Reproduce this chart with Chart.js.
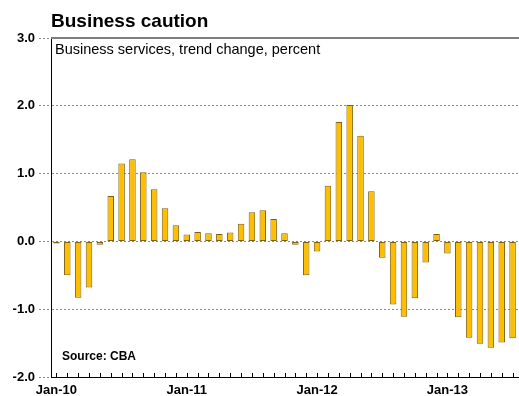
<!DOCTYPE html>
<html>
<head>
<meta charset="utf-8">
<script src="https://cdn.jsdelivr.net/npm/chart.js@4/dist/chart.umd.min.js"></script>
<style>
  html, body { margin: 0; padding: 0; background: #fff; }
  #wrap { width: 519px; height: 396px; position: relative; }
</style>
</head>
<body>
<div id="wrap"><canvas id="c" width="519" height="396"></canvas></div>
<script>
const chartTitle = "Business caution";
const chartSubtitle = "Business services, trend change, percent";
const sourceNote = "Source: CBA";

const months = [
  "Jan-10","Feb-10","Mar-10","Apr-10","May-10","Jun-10","Jul-10","Aug-10","Sep-10","Oct-10","Nov-10","Dec-10",
  "Jan-11","Feb-11","Mar-11","Apr-11","May-11","Jun-11","Jul-11","Aug-11","Sep-11","Oct-11","Nov-11","Dec-11",
  "Jan-12","Feb-12","Mar-12","Apr-12","May-12","Jun-12","Jul-12","Aug-12","Sep-12","Oct-12","Nov-12","Dec-12",
  "Jan-13","Feb-13","Mar-13","Apr-13","May-13","Jun-13","Jul-13"
];

const trendChange = [
  -0.03, -0.50, -0.83, -0.68, -0.05, 0.67, 1.15, 1.21, 1.02, 0.77, 0.49, 0.24,
  0.10, 0.14, 0.12, 0.11, 0.13, 0.26, 0.43, 0.46, 0.33, 0.12, -0.05, -0.50,
  -0.15, 0.82, 1.76, 2.01, 1.56, 0.74, -0.24, -0.93, -1.11, -0.84, -0.31, 0.11,
  -0.18, -1.12, -1.42, -1.51, -1.57, -1.49, -1.43
];

const yTicks = [-2, -1, 0, 1, 2, 3];

const decorPlugin = {
  id: 'decor',
  afterDraw(chart) {
    const {ctx, chartArea} = chart;
    const xs = chart.scales.x;
    ctx.save();
    // top border
    ctx.strokeStyle = '#7f7f7f';
    ctx.lineWidth = 2;
    ctx.beginPath();
    ctx.moveTo(chartArea.left, chartArea.top);
    ctx.lineTo(chartArea.right + 2, chartArea.top);
    ctx.stroke();
    // inner tick marks on x axis
    ctx.strokeStyle = '#000';
    ctx.lineWidth = 1;
    ctx.beginPath();
    for (let i = 0; i < months.length; i++) {
      const px = Math.round(xs.getPixelForValue(i)) + 0.5;
      ctx.moveTo(px, chartArea.bottom);
      ctx.lineTo(px, chartArea.bottom - 4);
    }
    ctx.stroke();
    // texts
    ctx.fillStyle = '#000';
    ctx.textBaseline = 'alphabetic';
    ctx.textAlign = 'left';
    ctx.font = 'bold 19px "Liberation Sans", Arial, sans-serif';
    ctx.fillText(chartTitle, 51, 27);
    ctx.font = '14.5px "Liberation Sans", Arial, sans-serif';
    ctx.fillText(chartSubtitle, 55, 54);
    ctx.font = 'bold 12px "Liberation Sans", Arial, sans-serif';
    ctx.fillText(sourceNote, 62, 360);
    ctx.restore();
  }
};

new Chart(document.getElementById('c'), {
  type: 'bar',
  data: {
    labels: months,
    datasets: [{
      data: trendChange,
      backgroundColor: '#FDBE00',
      borderColor: '#806010',
      borderWidth: 1,
      borderSkipped: false,
      categoryPercentage: 1.0,
      barPercentage: 0.6
    }]
  },
  options: {
    responsive: false,
    animation: false,
    events: [],
    layout: { padding: { top: 38, right: 1, left: 0, bottom: 0 } },
    plugins: { legend: { display: false }, tooltip: { enabled: false }, title: { display: false } },
    scales: {
      x: {
        offset: true,
        grid: { display: true, drawOnChartArea: false, drawTicks: false, offset: false },
        border: { display: true, color: '#000', width: 1 },
        ticks: {
          autoSkip: false,
          maxRotation: 0,
          minRotation: 0,
          padding: 6,
          color: '#000',
          font: { family: '"Liberation Sans", Arial, sans-serif', size: 13, weight: 'bold' },
          callback: function(v, i) { const l = months[i]; return l.startsWith('Jan') ? l : ''; }
        },
        afterFit(scale) { scale.height = 19; }
      },
      y: {
        min: -2, max: 3,
        afterBuildTicks(scale) { scale.ticks = yTicks.map(v => ({ value: v })); },
        grid: { color: '#8a8a8a', lineWidth: 1, drawTicks: true, tickLength: 12, tickColor: '#8a8a8a', tickBorderDash: [2, 2] },
        border: { display: true, color: '#000', width: 1, dash: [2, 2] },
        ticks: {
          padding: 4,
          color: '#000',
          font: { family: '"Liberation Sans", Arial, sans-serif', size: 13, weight: 'bold' },
          callback: v => v.toFixed(1)
        },
        afterFit(scale) { scale.width = 51; }
      }
    }
  },
  plugins: [decorPlugin]
});
</script>
</body>
</html>
